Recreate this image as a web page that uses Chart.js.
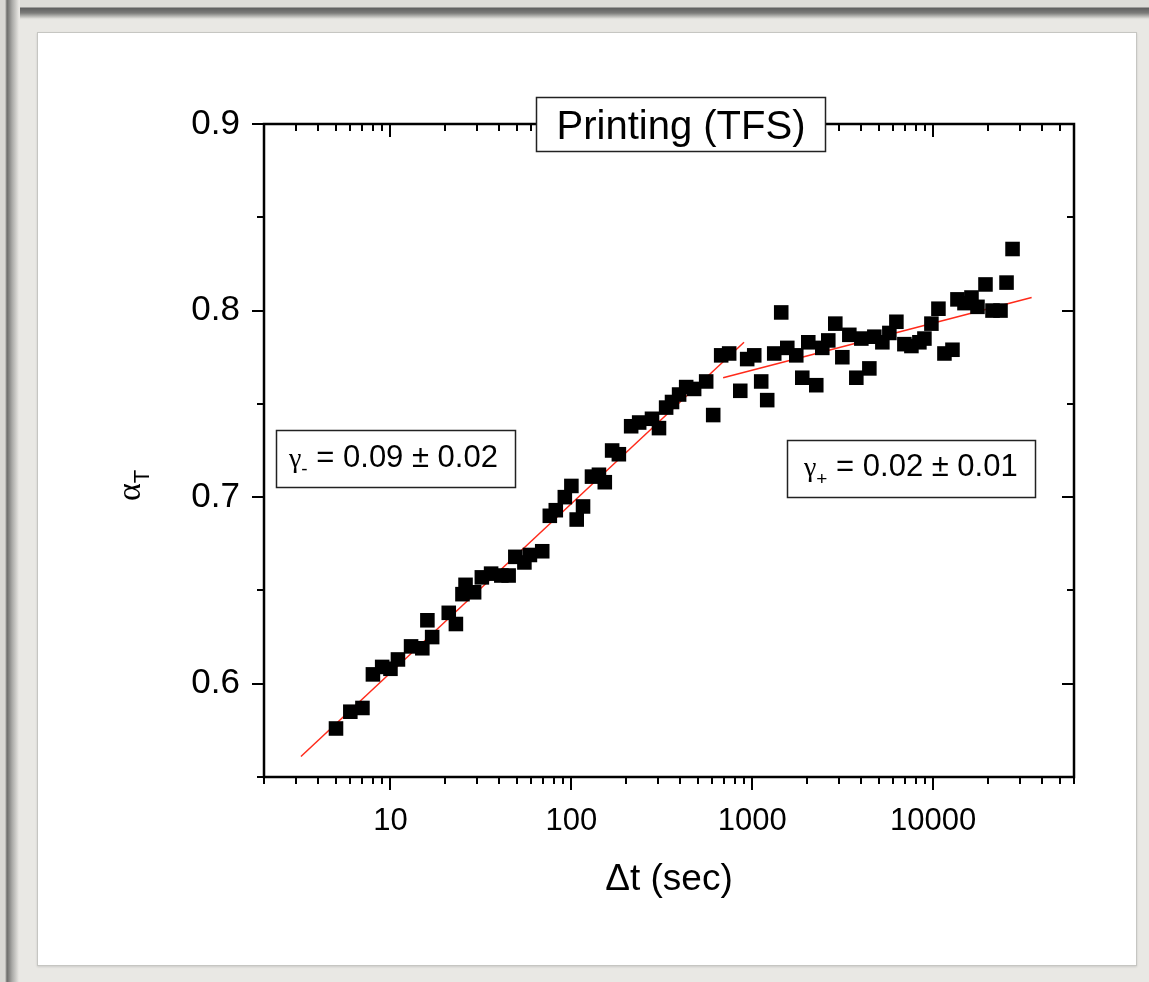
<!DOCTYPE html>
<html lang="en">
<head>
<meta charset="UTF-8">
<title>Printing (TFS)</title>
<style>
  html, body { margin: 0; padding: 0; }
  body {
    width: 1149px; height: 982px; overflow: hidden; position: relative;
    background: #e9e8e4;
    font-family: 'Liberation Sans', Arial, sans-serif;
  }
  .topbar {
    position: absolute; left: 0; top: 0; width: 1149px; height: 20px;
    background: linear-gradient(#dddcd8 0, #dddcd8 7px, #5e5e5e 8px, #7c7c7a 13px, #e6e5e1 19px);
  }
  .leftbar {
    position: absolute; left: 0; top: 0; width: 20px; height: 982px;
    background: linear-gradient(to right, #d9d8d4 0, #d9d8d4 5px, #6c6c6a 7px, #a9a9a6 12px, #e9e8e4 19px);
  }
  .panel {
    position: absolute; left: 37px; top: 32px; width: 1098px; height: 932px;
    background: #fff; border: 1px solid #c6c6c2;
    box-shadow: 0 1px 2px rgba(0, 0, 0, 0.12);
  }
  #chart { position: absolute; left: 0; top: 0; }
</style>
</head>
<body>
<div class="topbar"></div>
<div class="leftbar"></div>
<div class="panel"></div>
<canvas id="chart" width="1149" height="982"></canvas>
<script src="https://cdn.jsdelivr.net/npm/chart.js"></script>
<script>
// measured points: time lag (s) and alpha_T
const timeSec = [5.0, 6.0, 7.0, 8.0, 9.0, 10, 11, 13, 15, 16, 17, 21, 23, 25, 26, 29, 32, 36, 41, 45,
  49, 55, 59, 69, 76, 82, 92, 100, 107, 116, 130, 142, 153, 168, 183, 214, 237, 279, 305, 334,
  360, 394, 431, 477, 556, 608, 673, 745, 858, 937, 1025, 1120, 1209, 1322, 1445, 1561, 1750, 1889, 2039, 2257,
  2437, 2630, 2876, 3145, 3438, 3758, 4006, 4436, 4727, 5235, 5722, 6258, 6928, 7576, 8386, 8940, 9772, 10686, 11535, 12775,
  13614, 14886, 16275, 17565, 19449, 21268, 23547, 25424, 27445];
const alphaT = [0.576, 0.585, 0.587, 0.605, 0.609, 0.608, 0.613, 0.620, 0.619, 0.634, 0.625, 0.638, 0.632, 0.648, 0.653, 0.649, 0.657, 0.659, 0.658, 0.658,
  0.668, 0.665, 0.669, 0.671, 0.690, 0.693, 0.700, 0.706, 0.688, 0.695, 0.711, 0.712, 0.708, 0.725, 0.723, 0.738, 0.740, 0.742, 0.737, 0.748,
  0.751, 0.755, 0.759, 0.758, 0.762, 0.744, 0.776, 0.777, 0.757, 0.774, 0.776, 0.762, 0.752, 0.777, 0.799, 0.780, 0.776, 0.764, 0.783, 0.760,
  0.780, 0.784, 0.793, 0.775, 0.787, 0.764, 0.785, 0.769, 0.786, 0.783, 0.788, 0.794, 0.782, 0.781, 0.783, 0.785, 0.793, 0.801, 0.777, 0.779,
  0.806, 0.804, 0.807, 0.802, 0.814, 0.800, 0.800, 0.815, 0.833];

// the two fitted lines (end points)
const fitLowT = [3.2, 900];
const fitLowA = [0.561, 0.783];
const fitHighT = [690, 35000];
const fitHighA = [0.764, 0.807];

const xMajor = [10, 100, 1000, 10000];
const yMajor = [0.6, 0.7, 0.8, 0.9];
const yTickVals = [0.55, 0.6, 0.65, 0.7, 0.75, 0.8, 0.85, 0.9];
const decades = [1, 10, 100, 1000, 10000];
const multiples = [1, 2, 3, 4, 5, 6, 7, 8, 9];

const X_MIN = 2, X_MAX = 60000;
const xTickVals = [];
decades.forEach(d => multiples.forEach(m => {
  const v = d * m;
  if (v >= X_MIN && v <= X_MAX) xTickVals.push(v);
}));

const SANS = "'Liberation Sans', Arial, sans-serif";
const SERIF = "'Liberation Serif', 'Times New Roman', serif";

// draws a run of text pieces left to right, each with its own font and baseline shift
function drawRun(ctx, x, y, parts) {
  let cx = x;
  parts.forEach(p => {
    ctx.font = p.font;
    ctx.fillText(p.text, cx, y + (p.dy || 0));
    cx += ctx.measureText(p.text).width;
  });
}

function boxed(ctx, l, t, w, h) {
  ctx.fillStyle = '#fff';
  ctx.fillRect(l, t, w, h);
  ctx.strokeStyle = '#222';
  ctx.lineWidth = 1.5;
  ctx.strokeRect(l + 0.5, t + 0.5, w, h);
  ctx.fillStyle = '#000';
}

const axisFrame = {
  id: 'axisFrame',
  afterDraw(chart) {
    const { ctx, chartArea: a, scales: { x, y } } = chart;
    ctx.save();
    ctx.strokeStyle = '#000';
    ctx.lineWidth = 2.5;
    ctx.strokeRect(a.left, a.top, a.right - a.left, a.bottom - a.top);

    ctx.lineWidth = 2;
    ctx.beginPath();
    yTickVals.forEach(v => {
      const py = Math.round(y.getPixelForValue(v));
      const len = yMajor.includes(v) ? 12 : 7;
      ctx.moveTo(a.left, py); ctx.lineTo(a.left - len, py);
      ctx.moveTo(a.right, py); ctx.lineTo(a.right - len, py);
    });
    xTickVals.forEach(v => {
      const px = Math.round(x.getPixelForValue(v));
      const len = xMajor.includes(v) ? 13 : 7;
      ctx.moveTo(px, a.bottom); ctx.lineTo(px, a.bottom + len);
      ctx.moveTo(px, a.top); ctx.lineTo(px, a.top + len);
    });
    ctx.stroke();

    // title box sitting on the top axis
    boxed(ctx, 536, 97, 289, 54);
    ctx.textBaseline = 'alphabetic';
    ctx.textAlign = 'center';
    ctx.font = '40px ' + SANS;
    ctx.fillText('Printing (TFS)', 681, 139);
    ctx.textAlign = 'left';

    // fit annotations
    boxed(ctx, 276, 430, 239, 57);
    drawRun(ctx, 289, 467, [
      { text: 'γ', font: '28px ' + SERIF },
      { text: '-', font: '19px ' + SANS, dy: 8 },
      { text: ' = 0.09 ± 0.02', font: '31px ' + SANS }
    ]);
    boxed(ctx, 787, 440, 248, 57);
    drawRun(ctx, 804, 476, [
      { text: 'γ', font: '28px ' + SERIF },
      { text: '+', font: '19px ' + SANS, dy: 9 },
      { text: ' = 0.02 ± 0.01', font: '31px ' + SANS }
    ]);

    // y axis title: alpha with subscript T, reading upwards
    ctx.translate(140, 501);
    ctx.rotate(-Math.PI / 2);
    drawRun(ctx, 0, 0, [
      { text: 'α', font: '34px ' + SERIF },
      { text: 'T', font: '22px ' + SANS, dy: 9 }
    ]);
    ctx.restore();
  }
};

new Chart(document.getElementById('chart'), {
  type: 'scatter',
  data: {
    datasets: [
      {
        label: 'alpha_T',
        data: timeSec.map((t, i) => ({ x: t, y: alphaT[i] })),
        pointStyle: 'rect',
        pointRadius: 10.3,
        pointBorderWidth: 0,
        backgroundColor: '#000',
        borderColor: '#000'
      },
      {
        type: 'line',
        label: 'fit low',
        data: fitLowT.map((t, i) => ({ x: t, y: fitLowA[i] })),
        borderColor: '#ff2a1a',
        borderWidth: 1.5,
        pointRadius: 0,
        fill: false
      },
      {
        type: 'line',
        label: 'fit high',
        data: fitHighT.map((t, i) => ({ x: t, y: fitHighA[i] })),
        borderColor: '#ff2a1a',
        borderWidth: 1.5,
        pointRadius: 0,
        fill: false
      }
    ]
  },
  options: {
    responsive: false,
    animation: false,
    layout: { padding: { left: 0, top: 124, right: 75, bottom: 76 } },
    plugins: { legend: { display: false }, tooltip: { enabled: false } },
    scales: {
      x: {
        type: 'logarithmic',
        min: X_MIN,
        max: X_MAX,
        grid: { display: false },
        border: { display: false },
        afterBuildTicks: s => { s.ticks = xMajor.map(v => ({ value: v })); },
        afterFit: s => { s.height = 129; },
        ticks: {
          autoSkip: false, maxRotation: 0, padding: 18, color: '#000',
          font: { family: SANS, size: 31 },
          callback: v => String(v)
        },
        title: {
          display: true, text: 'Δt (sec)', color: '#000',
          font: { family: SANS, size: 37 },
          padding: { top: 0, bottom: 4 }
        }
      },
      y: {
        min: 0.55,
        max: 0.9,
        grid: { display: false },
        border: { display: false },
        afterBuildTicks: s => { s.ticks = yMajor.map(v => ({ value: v })); },
        afterFit: s => { s.width = 264; },
        ticks: {
          padding: 16, color: '#000',
          font: { family: SANS, size: 35 },
          callback: v => v.toFixed(1)
        }
      }
    }
  },
  plugins: [axisFrame]
});
</script>
</body>
</html>
